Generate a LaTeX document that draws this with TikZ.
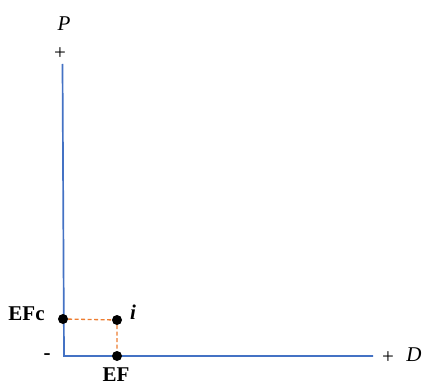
\documentclass[tikz,border=0pt]{standalone}
\usepackage{fontspec}
\setmainfont{Liberation Serif}
\usetikzlibrary{positioning}
\definecolor{AxisBlue}{RGB}{68,114,196}
\definecolor{GuideOrange}{RGB}{237,125,49}

\begin{document}
\begin{tikzpicture}[x=1pt, y=-1pt, every node/.style={inner sep=0pt},
    axis/.style={draw=AxisBlue, line width=1.7pt},
    guide/.style={draw=GuideOrange, line width=1.3pt, dash pattern=on 4pt off 2.5pt},
    dot/.style={circle, fill=black, minimum size=10pt},
    lbl/.style={font=\fontsize{21}{24}\selectfont},
    sgn/.style={font=\fontsize{21}{24}\selectfont}]
  \useasboundingbox (0,0) rectangle (426,385);
  % Axes
  \coordinate (top) at (62.5,64);
  \coordinate (origin) at (64,356);
  \coordinate (right) at (373,356);
  \draw[axis] (top) -- (origin) -- (right);
  % Axis labels
  \node[lbl] (plab) at (64,24) {\textit{P}};
  \node[sgn] (pplus) at (60,54) {+};
  \node[sgn] (dplus) at (388,357.5) {+};
  \node[lbl] (dlab) at (414,355) {\textit{D}};
  \node[sgn] (minus) at (47,357) {\textbf{-}};
  % Points
  \node[dot] (efc) at (63,319) {};
  \node[dot] (pi) at (117,320) {};
  \node[dot] (ef) at (117,356) {};
  \draw[guide] (efc) -- (pi) -- (ef);
  % Point labels
  \node[lbl, left=13pt of efc, yshift=5pt] (efclab) {\textbf{EFc}};
  \node[lbl] (ilab) at (133,312) {\textbf{\textit{i}}};
  \node[lbl, below=6pt of ef, xshift=-1pt] (eflab) {\textbf{EF}};
\end{tikzpicture}
\end{document}
